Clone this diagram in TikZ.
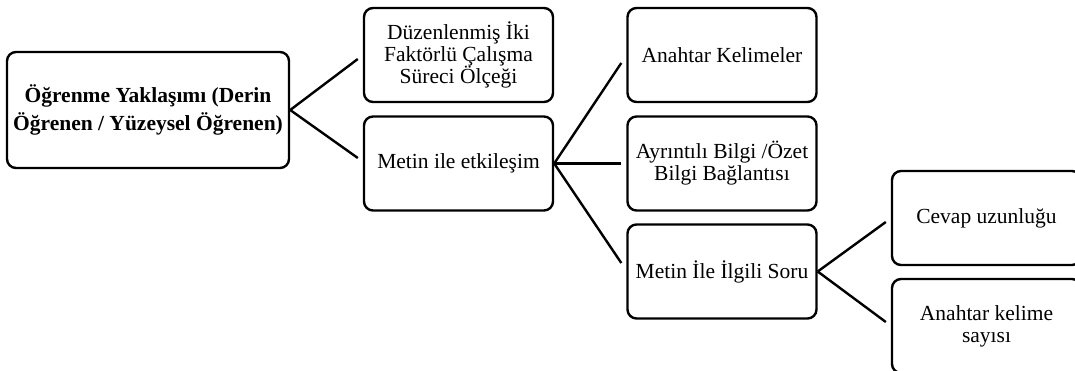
\documentclass[tikz,border=0pt]{standalone}
\usepackage{fontspec}
\setmainfont{Liberation Serif}
\usetikzlibrary{calc}
\begin{document}
\begin{tikzpicture}[x=1pt,y=-1pt,
  card/.style={draw=black, line width=2.4pt, rounded corners=9pt, fill=white,
    minimum width=189pt, minimum height=94pt, inner sep=0pt, align=center,
    font=\fontsize{21.5}{22}\selectfont},
  rootcard/.style={card, minimum width=282pt, minimum height=116pt,
    font=\fontsize{21.5}{27.3}\selectfont\bfseries},
  conn/.style={draw=black, line width=2.4pt}]
\useasboundingbox (0,0) rectangle (1075,371);
% boxes, level by level
\node[rootcard] (root) at (148,110) {Öğrenme Yaklaşımı (Derin\\Öğrenen / Yüzeysel Öğrenen)};
\node[card] (olcek) at (458.5,55) {Düzenlenmiş İki\\Faktörlü Çalışma\\Süreci Ölçeği};
\node[card] (metin) at (458.5,163.5) {Metin ile etkileşim};
\node[card] (anahtar) at (722,55) {Anahtar Kelimeler};
\node[card] (ayrinti) at (722,163.5) {Ayrıntılı Bilgi /Özet\\Bilgi Bağlantısı};
\node[card] (soru) at (722,271.5) {Metin İle İlgili Soru};
\node[card] (cevap) at (986.5,218) {Cevap uzunluğu};
\node[card] (sayi) at (986.5,326) {Anahtar kelime\\sayısı};
% connector ends, just short of each child box
\coordinate (e1) at ($(olcek.west)+(-5,4)$);
\coordinate (e2) at ($(metin.west)+(-5,-5.5)$);
\coordinate (e3) at ($(anahtar.west)+(-5,8)$);
\coordinate (e4) at ($(ayrinti.west)+(-5,0)$);
\coordinate (e5) at ($(soru.west)+(-5,-8.5)$);
\coordinate (e6) at ($(cevap.west)+(-5,4)$);
\coordinate (e7) at ($(sayi.west)+(-5,-4)$);
% connectors
\draw[conn] (root.east) -- (e1);
\draw[conn] (root.east) -- (e2);
\draw[conn] (metin.east) -- (e3);
\draw[conn] (metin.east) -- (e4);
\draw[conn] (metin.east) -- (e5);
\draw[conn] (soru.east) -- (e6);
\draw[conn] (soru.east) -- (e7);
\end{tikzpicture}
\end{document}
